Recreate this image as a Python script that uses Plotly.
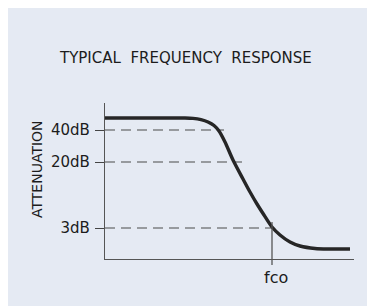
import plotly.graph_objects as go

# ---- data (schematic units: x = frequency position, y = attenuation level) ----
curve_x = [0, 45, 80, 88, 96, 103, 109, 114, 120, 128, 138, 145, 152, 159, 167, 175, 185, 195, 210, 225, 245]
curve_y = [141, 141, 141, 140.6, 139.3, 137, 133.5, 128, 117, 99, 80, 67, 55, 44, 32, 24, 17, 13, 10.5, 10, 10]

level_labels = ["40dB", "20dB", "3dB"]
level_values = [129, 97, 31]
level_ends = [119, 137, 167]

fco_x = 167
fco_top = 37
fco_label = "fco"

title_text = "TYPICAL\u00a0\u00a0FREQUENCY\u00a0\u00a0RESPONSE"
ylabel_text = "ATTENUATION"

X_RANGE = [0, 249]
Y_RANGE = [0, 156]

W, H = 375, 306
OFF = 8  # page body margin
# plot area in screen pixels
PX0, PX1, PY0, PY1 = 105, 354, 103, 259
ML = PX0 - OFF
MT = PY0 - OFF
MR = W - ML - (PX1 - PX0)
MB = H - MT - (PY1 - PY0)
BG = "#E5EAF3"
TXT = "#1c1c1c"
FONT = "DejaVu Sans"


def px_to_paper_x(px):
    return (px - PX0) / (PX1 - PX0)


def px_to_paper_y(py):
    return (PY1 - py) / (PY1 - PY0)


def data_to_paper_y(v):
    return (v - Y_RANGE[0]) / (Y_RANGE[1] - Y_RANGE[0])


fig = go.Figure()

# dashed reference levels
for val, end in zip(level_values, level_ends):
    fig.add_trace(go.Scatter(
        x=[0, end], y=[val, val], mode="lines",
        line=dict(color="#4a4a4a", width=1.1, dash="10px,6px"),
        hoverinfo="skip", showlegend=False,
    ))

# response curve
fig.add_trace(go.Scatter(
    x=curve_x, y=curve_y, mode="lines",
    line=dict(color="#262626", width=3.4, shape="spline", smoothing=0.8),
    hoverinfo="skip", showlegend=False,
))

shapes = [
    # fco marker line
    dict(type="line", xref="x", yref="paper",
         x0=fco_x, x1=fco_x,
         y0=px_to_paper_y(PY1 + 6), y1=data_to_paper_y(fco_top),
         line=dict(color="#555555", width=1.3)),
]

annotations = [
    dict(text=title_text, xref="paper", yref="paper",
         x=px_to_paper_x(185), y=px_to_paper_y(58),
         xanchor="center", yanchor="middle", showarrow=False,
         font=dict(family=FONT, size=15, color=TXT)),
    dict(text=ylabel_text, xref="paper", yref="paper",
         x=px_to_paper_x(37), y=px_to_paper_y(169),
         xanchor="center", yanchor="middle", textangle=-90, showarrow=False,
         font=dict(family=FONT, size=14, color=TXT)),
    dict(text=fco_label, xref="x", yref="paper",
         x=fco_x, xshift=4, y=px_to_paper_y(277),
         xanchor="center", yanchor="middle", showarrow=False,
         font=dict(family=FONT, size=16, color=TXT)),
]

fig.update_layout(
    width=W, height=H,
    margin=dict(l=ML, r=MR, t=MT, b=MB, pad=0),
    paper_bgcolor=BG,
    plot_bgcolor=BG,
    shapes=shapes,
    annotations=annotations,
    xaxis=dict(range=X_RANGE, showgrid=False, zeroline=False,
               showline=True, linecolor="#555555", linewidth=1.3,
               showticklabels=False, ticks="", fixedrange=True),
    yaxis=dict(range=Y_RANGE, showgrid=False, zeroline=False,
               showline=True, linecolor="#555555", linewidth=1.3,
               tickmode="array", tickvals=level_values, ticktext=level_labels,
               ticks="outside", ticklen=9, tickwidth=1.1, tickcolor="#444444",
               ticklabelstandoff=2,
               tickfont=dict(family=FONT, size=15, color=TXT),
               fixedrange=True),
)

fig.write_html("out.html", config={"displayModeBar": False})
